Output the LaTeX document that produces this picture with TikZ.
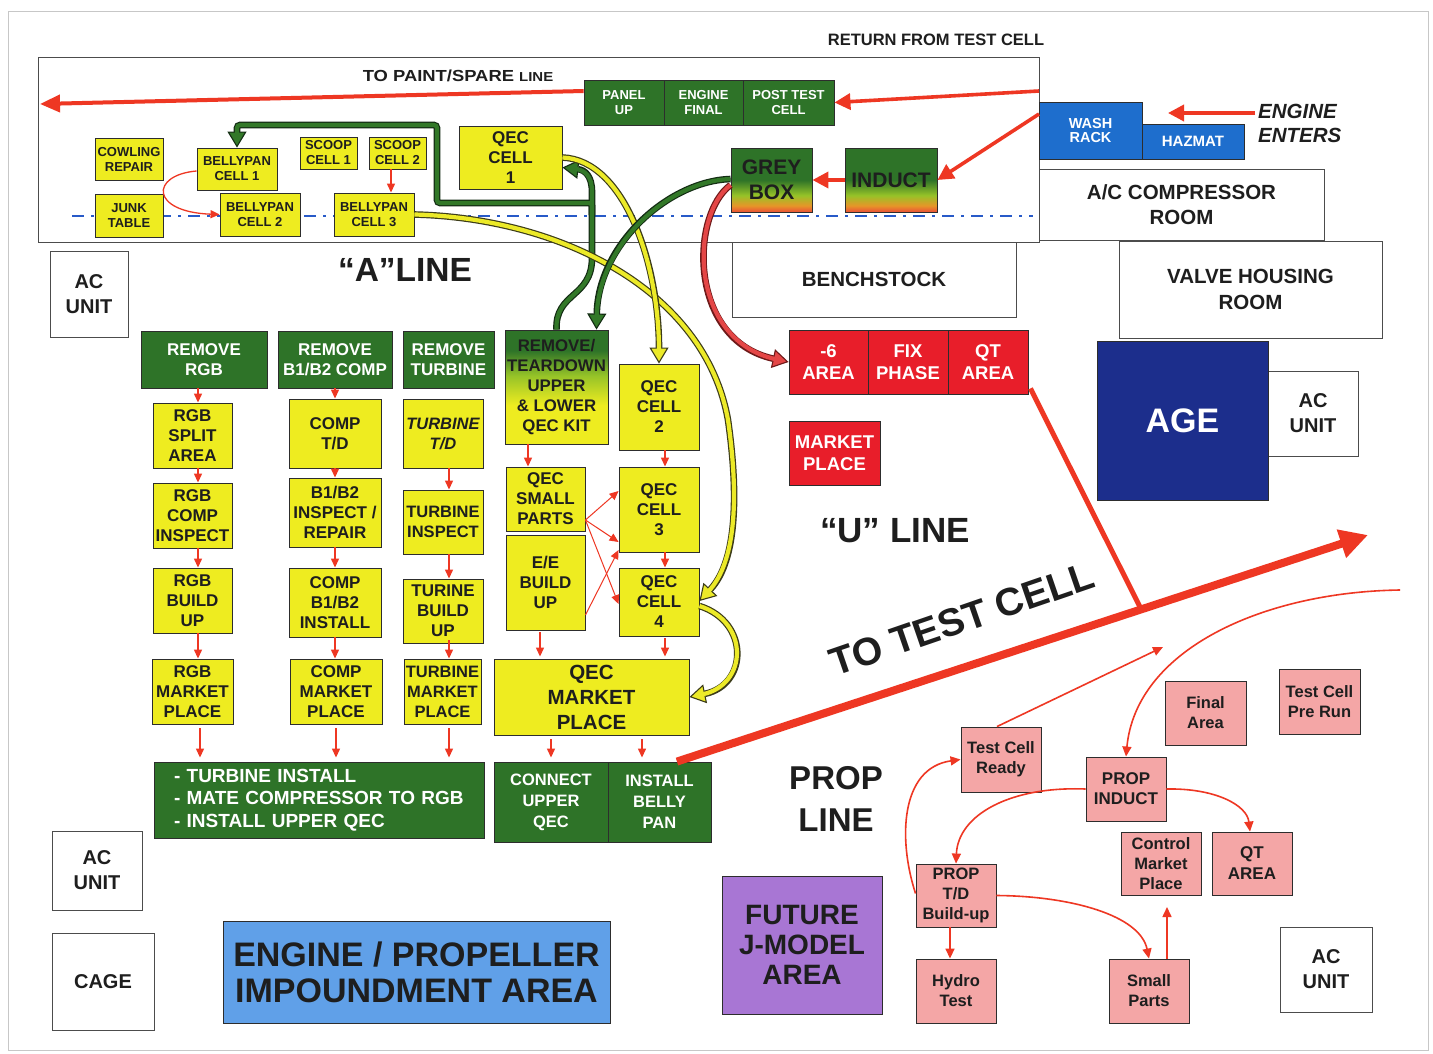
\documentclass[tikz,border=0pt]{standalone}
\usepackage{fontspec}
\setmainfont{Liberation Sans}
\usepackage{graphicx}
\usetikzlibrary{arrows.meta}

\definecolor{ycol}{RGB}{238,236,32}
\definecolor{gcol}{RGB}{46,115,40}
\definecolor{rcol}{RGB}{232,30,42}
\definecolor{pcol}{RGB}{244,166,166}
\definecolor{bcol}{RGB}{30,110,205}
\definecolor{agecol}{RGB}{28,46,140}
\definecolor{impcol}{RGB}{96,160,232}
\definecolor{futcol}{RGB}{168,118,212}
\definecolor{arr}{RGB}{238,55,35}
\definecolor{edge}{RGB}{45,45,45}
\definecolor{txt}{RGB}{30,30,30}
\definecolor{dashblue}{RGB}{40,90,200}
\definecolor{shred}{RGB}{235,80,55}
\definecolor{shorange}{RGB}{230,150,40}
\definecolor{shyg}{RGB}{150,195,40}
\definecolor{gpipe}{RGB}{50,120,40}
\definecolor{gedge}{RGB}{20,45,20}
\definecolor{ypipe}{RGB}{236,234,40}
\definecolor{yedge}{RGB}{60,60,25}
\definecolor{rpipe}{RGB}{228,70,70}
\definecolor{redge}{RGB}{110,25,25}

\newcommand\bff[2]{\fontsize{#1}{#2}\selectfont\bfseries}

% green on top, fading through yellow-green to orange-red at the bottom
\pgfdeclareverticalshading{greyboxshade}{100bp}{color(0bp)=(shred); color(25bp)=(shred); color(30bp)=(shorange); color(38bp)=(shyg); color(50bp)=(gcol); color(100bp)=(gcol)}
% green on top, yellow at the bottom
\pgfdeclareverticalshading{kitshade}{100bp}{color(0bp)=(ycol); color(25bp)=(ycol); color(42bp)=(ycol); color(55bp)=(shyg); color(66bp)=(gcol); color(100bp)=(gcol)}

\begin{document}
\begin{tikzpicture}[x=1pt, y=-1pt,
  bx/.style={draw=edge, line width=0.9pt, inner sep=0pt, align=center, text=txt},
  wh/.style 2 args={minimum width=#1pt, minimum height=#2pt},
  ybox/.style={bx, fill=ycol},
  gbox/.style={bx, fill=gcol, text=white},
  rbox/.style={bx, fill=rcol, text=white, font=\bff{18.5}{22}},
  pbox/.style={bx, fill=pcol, font=\bff{16.5}{20}},
  room/.style={bx, fill=white, draw=black!70},
  lbl/.style={inner sep=0pt, text=txt, align=center},
  sarr/.style={draw=arr, line width=1.3pt, -{Triangle[length=9pt,width=8pt]}},
  parr/.style={draw=arr, line width=1.6pt, -{Triangle[length=10pt,width=9pt]}},
  marr/.style={draw=arr, line width=3.6pt, -{Triangle[length=16pt,width=16pt]}},
  pout/.style={line width=6.6pt, draw=#1},
  pin/.style={line width=4.2pt, draw=#1},
  ptip/.style={-{Triangle[length=16pt,width=19pt,fill=#1,line width=1.1pt]}},
]
\useasboundingbox (0,0) rectangle (1433,1053);
\fill[white] (0,0) rectangle (1433,1053);
\draw[black!22, line width=1pt] (8,11) rectangle (1428,1050);

% A line frame and its centre line
\draw[black!70, line width=1pt] (38,57) rectangle (1039,242);
\draw[dashblue, line width=2.2pt, dash pattern=on 12pt off 7pt on 3pt off 7pt] (72,216) -- (1033,216);

% rooms
\node[room, wh={285}{71}, font=\bff{20.5}{25}] (acroom) at (1181.5,204.5) {A/C COMPRESSOR\\ROOM};
\node[room, wh={284}{75}, font=\bff{20.5}{25}] (bench) at (874,279.5) {BENCHSTOCK};
\node[room, wh={263}{97}, font=\bff{20.5}{26}] (valve) at (1250.5,289.5) {VALVE HOUSING\\ROOM};
\node[room, wh={78}{86}, font=\bff{20}{25}] (ac1) at (89,294) {AC\\UNIT};
\node[room, wh={90}{85}, font=\bff{20}{25}] (ac2) at (1313,413.5) {AC\\UNIT};
\node[room, wh={90}{79}, font=\bff{20}{25}] (ac3) at (97,870.5) {AC\\UNIT};
\node[room, wh={102}{97}, font=\bff{20}{25}] (cage) at (103,981.5) {CAGE};
\node[room, wh={92}{85}, font=\bff{20}{25}] (ac4) at (1326,969.5) {AC\\UNIT};

% labels
\node[lbl, font=\bff{16.5}{20}] (ret) at (936,40) {RETURN FROM TEST CELL};
\node[lbl, font=\bff{16}{20}] (paint) at (458,76) {\scalebox{1.15}[1]{TO PAINT/SPARE {\fontsize{13}{15}\selectfont LINE}}};
\node[lbl, font=\bff{20.5}{24}\itshape, anchor=west, align=left] (enters) at (1258,123) {ENGINE\\ENTERS};
\node[lbl, font=\bff{33.5}{40}] (aline) at (405,270) {“A”LINE};
\node[lbl, font=\bff{35}{40}] (uline) at (895,531) {“U” LINE};
\node[lbl, font=\bff{33}{42}] (propline) at (836,799) {PROP\\LINE};
\node[lbl, font=\bff{39}{44}, rotate=19] (ttc) at (962,619) {TO TEST CELL};

% A line cells
\node[ybox, wh={68}{42}, font=\bff{13}{15}] (cowl) at (129,159) {COWLING\\REPAIR};
\node[ybox, wh={80}{42}, font=\bff{13}{15}] (bp1) at (237,169) {BELLYPAN\\CELL 1};
\node[ybox, wh={68}{43}, font=\bff{13}{15}] (junk) at (129,215.5) {JUNK\\TABLE};
\node[ybox, wh={80}{43}, font=\bff{13}{15}] (bp2) at (260,214.5) {BELLYPAN\\CELL 2};
\node[ybox, wh={57}{32}, font=\bff{13}{15}] (sc1) at (328.5,153) {SCOOP\\CELL 1};
\node[ybox, wh={57}{32}, font=\bff{13}{15}] (sc2) at (397.5,153) {SCOOP\\CELL 2};
\node[ybox, wh={80}{43}, font=\bff{13}{15}] (bp3) at (374,214.5) {BELLYPAN\\CELL 3};
\node[ybox, wh={103}{63}, font=\bff{17}{20}] (qec1) at (510.5,157.5) {QEC\\CELL\\1};

\node[gbox, wh={80}{45}, font=\bff{13}{15}] (panel) at (624,102.5) {PANEL\\UP};
\node[gbox, wh={79}{45}, font=\bff{13}{15}] (engfin) at (703.5,102.5) {ENGINE\\FINAL};
\node[gbox, wh={91}{45}, font=\bff{13}{15}] (posttest) at (788.5,102.5) {POST TEST\\CELL};

\node[bx, shade, shading=greyboxshade, wh={81}{64}, font=\bff{21}{25}] (greybox) at (771.5,180) {GREY\\BOX};
\node[bx, shade, shading=greyboxshade, wh={92}{64}, font=\bff{21}{25}] (induct) at (891,180) {INDUCT};

\node[bx, fill=bcol, text=white, wh={103}{57}, font=\bff{14.5}{14.5}] (wash) at (1090.5,130.5) {WASH\\RACK};
\node[bx, fill=bcol, text=white, wh={102}{35}, font=\bff{15}{17}] (hazmat) at (1193,141.5) {HAZMAT};

% U line: remove / teardown
\node[gbox, wh={126}{57}, font=\bff{17}{20}] (rrgb) at (204,359.5) {REMOVE\\RGB};
\node[gbox, wh={114}{57}, font=\bff{17}{20}] (rb1) at (335,359.5) {REMOVE\\B1/B2 COMP};
\node[gbox, wh={91}{57}, font=\bff{17}{20}] (rturb) at (448.5,359.5) {REMOVE\\TURBINE};
\node[bx, shade, shading=kitshade, wh={103}{114}, font=\bff{16.8}{20}] (rqec) at (556.5,387) {REMOVE/\\TEARDOWN\\UPPER\\\& LOWER\\QEC KIT};

% RGB column
\node[ybox, wh={79}{65}, font=\bff{17}{20}] (split) at (192.5,435.5) {RGB\\SPLIT\\AREA};
\node[ybox, wh={79}{65}, font=\bff{17}{20}] (cinsp) at (192.5,515.5) {RGB\\COMP\\INSPECT};
\node[ybox, wh={79}{65}, font=\bff{17}{20}] (rbuild) at (192.5,600.5) {RGB\\BUILD\\UP};
\node[ybox, wh={81}{65}, font=\bff{17}{20}] (rmkt) at (192.5,691.5) {RGB\\MARKET\\PLACE};

% compressor column
\node[ybox, wh={92}{69}, font=\bff{17}{20}] (ctd) at (335,433.5) {COMP\\T/D};
\node[ybox, wh={92}{69}, font=\bff{17}{20}] (b1insp) at (335,512.5) {B1/B2\\INSPECT /\\REPAIR};
\node[ybox, wh={92}{69}, font=\bff{17}{20}] (cinst) at (335,602.5) {COMP\\B1/B2\\INSTALL};
\node[ybox, wh={92}{65}, font=\bff{17}{20}] (cmkt) at (336,691.5) {COMP\\MARKET\\PLACE};

% turbine column
\node[ybox, wh={80}{69}, font=\bff{16.5}{20}\itshape] (ttd) at (443,433.5) {TURBINE\\T/D};
\node[ybox, wh={80}{64}, font=\bff{16.5}{20}] (tinsp) at (443,522) {TURBINE\\INSPECT};
\node[ybox, wh={80}{64}, font=\bff{17}{20}] (tbuild) at (443,611) {TURINE\\BUILD\\UP};
\node[ybox, wh={77}{65}, font=\bff{16.5}{20}] (tmkt) at (442.5,691.5) {TURBINE\\MARKET\\PLACE};

% QEC cells
\node[ybox, wh={79}{64}, font=\bff{17}{20}] (qsmall) at (545.5,499) {QEC\\SMALL\\PARTS};
\node[ybox, wh={79}{95}, font=\bff{17}{20}] (ee) at (545.5,582.5) {E/E\\BUILD\\UP};
\node[ybox, wh={80}{86}, font=\bff{17}{20}] (qec2) at (659,407) {QEC\\CELL\\2};
\node[ybox, wh={80}{85}, font=\bff{17}{20}] (qec3) at (659,509.5) {QEC\\CELL\\3};
\node[ybox, wh={80}{68}, font=\bff{17}{20}] (qec4) at (659,602) {QEC\\CELL\\4};
\node[ybox, wh={195}{76}, font=\bff{20.5}{25}] (qmkt) at (591.5,697) {QEC\\MARKET\\PLACE};

% final assembly
\node[gbox, wh={330}{76}, font=\bff{19}{22.5}, align=left, text width=290pt] (gbig) at (319,800) {- TURBINE INSTALL\\- MATE COMPRESSOR TO RGB\\- INSTALL UPPER QEC};
\node[gbox, wh={114}{80}, font=\bff{16.5}{21}] (conn) at (551,802) {CONNECT\\UPPER\\QEC};
\node[gbox, wh={103}{80}, font=\bff{16.5}{21}] (inst) at (659.5,802) {INSTALL\\BELLY\\PAN};

% red areas
\node[rbox, wh={79}{64}] (a6) at (828.5,362) {-6\\AREA};
\node[rbox, wh={80}{64}] (fix) at (908,362) {FIX\\PHASE};
\node[rbox, wh={80}{64}] (qtr) at (988,362) {QT\\AREA};
\node[rbox, wh={91}{64}] (rmp) at (834.5,453) {MARKET\\PLACE};

\node[bx, fill=agecol, text=white, wh={171}{159}, font=\bff{34}{40}] (age) at (1182.5,420.5) {AGE};
\node[bx, fill=impcol, wh={387}{102}, font=\bff{34}{36}] (imp) at (416.5,972) {ENGINE / PROPELLER\\IMPOUNDMENT AREA};
\node[bx, fill=futcol, wh={160}{138}, font=\bff{28}{30}] (fut) at (802,945) {FUTURE\\J-MODEL\\AREA};

% prop line
\node[pbox, wh={80}{65}] (tcr) at (1001,759.5) {Test Cell\\Ready};
\node[pbox, wh={81}{64}] (final) at (1205.5,713) {Final\\Area};
\node[pbox, wh={81}{65}] (prerun) at (1319.5,701.5) {Test Cell\\Pre Run};
\node[pbox, wh={80}{64}, font=\bff{17}{20}] (pind) at (1126,789) {PROP\\INDUCT};
\node[pbox, wh={80}{63}] (cmp) at (1161,863.5) {Control\\Market\\Place};
\node[pbox, wh={80}{63}, font=\bff{17}{21}] (qt2) at (1252,863.5) {QT\\AREA};
\node[pbox, wh={80}{63}] (ptd) at (956,895.5) {PROP\\T/D\\Build-up};
\node[pbox, wh={80}{64}] (hydro) at (956,991) {Hydro\\Test};
\node[pbox, wh={80}{64}] (small) at (1149,991) {Small\\Parts};

% free ends
\coordinate (retin) at (1039,91);
\coordinate (retin2) at (1039,114);
\coordinate (paintend) at (40,104);
\coordinate (enterA) at (1255,113);
\coordinate (enterB) at (1168,113);
\coordinate (testcell) at (1368,535);
\coordinate (tcjoin) at (1140,607);
\coordinate (tcr2tc) at (1163,647);
\coordinate (fromtc) at (1400,590);
\coordinate (spup) at (1167,907);
\coordinate (gjoin) at (592,215);

% main flow arrows
\draw[marr] (retin) -- (posttest.east);
\draw[marr] (retin2) -- (induct.east);
\draw[marr] (induct.west) -- (greybox.east);
\draw[marr, line width=4pt, -{Triangle[length=20pt,width=17pt]}] ([yshift=11.5pt]panel.west) -- (paintend);
\draw[marr] (enterA) -- (enterB);
\draw[draw=arr, line width=5pt] ([shift={(2pt,6pt)}]qtr.south east) -- (tcjoin);
\draw[draw=arr, line width=8pt, -{Triangle[length=28pt,width=28pt]}] ([xshift=17.5pt]inst.north) -- (testcell);

% A line small arrows
\draw[sarr] ([yshift=-2pt]bp1.west) .. controls (150,175) and (150,212) .. (bp2.west);
\draw[sarr] ([xshift=-6.5pt]sc2.south) -- ([xshift=17pt]bp3.north);

% column arrows
\draw[sarr] ([xshift=-6pt]rrgb.south) -- ([xshift=5.5pt]split.north);
\draw[sarr] ([xshift=5.5pt]split.south) -- ([xshift=5.5pt]cinsp.north);
\draw[sarr] ([xshift=5.5pt]cinsp.south) -- ([xshift=5.5pt]rbuild.north);
\draw[sarr] ([xshift=5.5pt]rbuild.south) -- ([xshift=5.5pt]rmkt.north);
\draw[sarr, shorten <=4pt, shorten >=4pt] ([xshift=7.5pt]rmkt.south) -- ([xshift=-119pt]gbig.north);

\draw[sarr] (rb1.south) -- (ctd.north);
\draw[sarr] (ctd.south) -- (b1insp.north);
\draw[sarr] (b1insp.south) -- (cinst.north);
\draw[sarr] (cinst.south) -- ([xshift=-1pt]cmkt.north);
\draw[sarr, shorten <=4pt, shorten >=4pt] (cmkt.south) -- ([xshift=17pt]gbig.north);

\draw[sarr] ([xshift=6pt]ttd.south) -- ([xshift=6pt]tinsp.north);
\draw[sarr] ([xshift=6pt]tinsp.south) -- ([xshift=6pt]tbuild.north);
\draw[sarr] ([xshift=6pt,yshift=3pt]tbuild.south) -- ([xshift=6.5pt]tmkt.north);
\draw[sarr, shorten <=4pt, shorten >=4pt] ([xshift=6.5pt]tmkt.south) -- ([xshift=130pt]gbig.north);

\draw[sarr] ([xshift=-28.5pt]rqec.south) -- ([xshift=-17.5pt]qsmall.north);
\draw[sarr] ([xshift=6pt]qec2.south) -- ([xshift=6pt]qec3.north);
\draw[sarr] ([xshift=6pt]qec3.south) -- ([xshift=6pt]qec4.north);
\draw[sarr, shorten <=2pt, shorten >=2pt] ([xshift=-5.5pt]ee.south) -- ([xshift=-51.5pt]qmkt.north);
\draw[sarr, shorten <=2pt, shorten >=2pt] ([xshift=6pt]qec4.south) -- ([xshift=73.5pt]qmkt.north);
\draw[sarr, shorten <=4pt, shorten >=4pt] ([xshift=-40.5pt]qmkt.south) -- (conn.north);
\draw[sarr, shorten <=4pt, shorten >=4pt] ([xshift=50.5pt]qmkt.south) -- ([xshift=-17.5pt]inst.north);

\draw[sarr, line width=1pt] ([yshift=-21pt]qsmall.east) -- ([yshift=18.5pt]qec3.west);
\draw[sarr, line width=1pt] ([yshift=-21pt]qsmall.east) -- ([yshift=-32.5pt]qec3.west);
\draw[sarr, line width=1pt] ([yshift=-21pt]qsmall.east) -- ([yshift=-2pt]qec4.west);
\draw[sarr, line width=1pt] ([yshift=-32.5pt]ee.east) -- ([yshift=-40.5pt]qec3.west);

% prop line arrows
\draw[parr] ([xshift=-4pt]tcr.north) -- (tcr2tc);
\draw[parr] (fromtc) .. controls (1262,592) and (1136,650) .. (pind.north);
\draw[parr] (pind.west) .. controls (1010,786) and (958,815) .. (ptd.north);
\draw[parr] (pind.east) .. controls (1215,788) and (1247,805) .. ([xshift=-2pt]qt2.north);
\draw[parr] ([yshift=2pt]ptd.west) .. controls (898,840) and (900,768) .. (tcr.west);
\draw[parr] (ptd.east) .. controls (1070,896) and (1140,915) .. (small.north);
\draw[parr] ([xshift=-6pt]ptd.south) -- ([xshift=-6pt]hydro.north);
\draw[parr] ([xshift=18pt]small.north) -- (spup);

% QEC kit return pipe (green), branching to bellypan cell 1 and QEC cell 1
\draw[pout=gedge, ptip=gpipe, rounded corners=3pt] (rqec.north) .. controls (555,292) and (592,298) .. (592,255) -- (592,203) -- (437,203) -- (437,125) -| (bp1.north);
\draw[pout=gedge, ptip=gpipe] (gjoin) -- (592,192) .. controls (592,176) and (585,170) .. ([yshift=-10pt]qec1.east);
\draw[pin=gpipe, shorten >=13pt, rounded corners=3pt] (rqec.north) .. controls (555,292) and (592,298) .. (592,255) -- (592,203) -- (437,203) -- (437,125) -| (bp1.north);
\draw[pin=gpipe, shorten >=13pt] (gjoin) -- (592,192) .. controls (592,176) and (585,170) .. ([yshift=-10pt]qec1.east);

% yellow pipes
\draw[pout=yedge, ptip=ypipe] (bp3.east) .. controls (560,218) and (705,290) .. (728,420) .. controls (738,490) and (738,560) .. ([yshift=1pt]qec4.east);
\draw[pin=ypipe, shorten >=13pt] (bp3.east) .. controls (560,218) and (705,290) .. (728,420) .. controls (738,490) and (738,560) .. ([yshift=1pt]qec4.east);
\draw[pout=yedge, ptip=ypipe] (qec1.east) .. controls (625,160) and (659,265) .. (qec2.north);
\draw[pin=ypipe, shorten >=13pt] (qec1.east) .. controls (625,160) and (659,265) .. (qec2.north);

% grey box to teardown (green)
\draw[pout=gedge, ptip=gpipe] ([yshift=1pt]greybox.west) .. controls (668,181) and (598,245) .. ([xshift=40pt]rqec.north);
\draw[pin=gpipe, shorten >=13pt] ([yshift=1pt]greybox.west) .. controls (668,181) and (598,245) .. ([xshift=40pt]rqec.north);

% grey box to -6 area (red)
\draw[pout=redge, ptip=rpipe] ([yshift=-5pt]greybox.west) .. controls (690,215) and (688,340) .. (a6.west);
\draw[pin=rpipe, shorten >=13pt] ([yshift=-5pt]greybox.west) .. controls (690,215) and (688,340) .. (a6.west);

% QEC cell 4 to QEC market place
\draw[pout=yedge, ptip=ypipe] ([yshift=-4pt]qec4.east) .. controls (750,622) and (748,685) .. (qmkt.east);
\draw[pin=ypipe, shorten >=13pt] ([yshift=-4pt]qec4.east) .. controls (750,622) and (748,685) .. (qmkt.east);
\end{tikzpicture}
\end{document}
